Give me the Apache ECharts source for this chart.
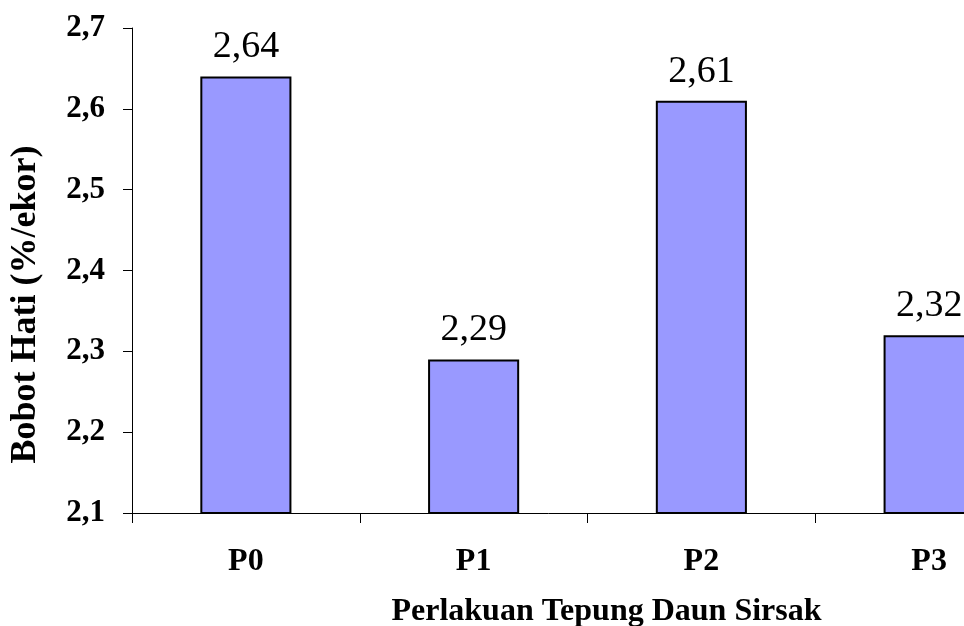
<!DOCTYPE html>
<html>
<head>
<meta charset="utf-8">
<script src="https://cdn.jsdelivr.net/npm/echarts@6/dist/echarts.min.js"></script>
<style>html,body{margin:0;padding:0;background:#fff}#c{width:964px;height:626px}</style>
</head>
<body>
<div id="c"></div>
<script>
const categories = ['P0', 'P1', 'P2', 'P3'];
const values = [2.64, 2.29, 2.61, 2.32];
const yMin = 2.1, yMax = 2.7, yStep = 0.1;
const xTitle = 'Perlakuan Tepung Daun Sirsak';
const yTitle = 'Bobot Hati (%/ekor)';

const font = '"Liberation Serif", "Times New Roman", serif';
const chart = echarts.init(document.getElementById('c'), null, {renderer: 'canvas'});
const fmt = v => Number(v).toFixed(1).replace('.', ',');
chart.setOption({
  animation: false,
  backgroundColor: '#fff',
  grid: {left: 132, top: 28, bottom: 113, width: 911, containLabel: false, outerBoundsMode: 'none'},
  xAxis: {
    type: 'category',
    data: categories,
    boundaryGap: true,
    axisLine: {lineStyle: {color: '#000', width: 1}},
    axisTick: {show: true, length: 10, lineStyle: {color: '#000'}},
    axisLabel: {margin: 33, fontFamily: font, fontWeight: 'bold', fontSize: 32, color: '#000'},
    name: xTitle,
    nameLocation: 'middle',
    nameGap: 83,
    nameTextStyle: {fontFamily: font, fontWeight: 'bold', fontSize: 32, color: '#000', padding: [0, 0, 0, 38]}
  },
  yAxis: {
    type: 'value',
    min: yMin, max: yMax, interval: yStep,
    splitLine: {show: false},
    axisLine: {show: true, lineStyle: {color: '#000', width: 1}},
    axisTick: {show: true, length: 9, lineStyle: {color: '#000'}},
    axisLabel: {margin: 27, fontFamily: font, fontWeight: 'bold', fontSize: 31, color: '#000', formatter: fmt},
    name: yTitle,
    nameLocation: 'middle',
    nameGap: 88,
    nameTextStyle: {fontFamily: font, fontWeight: 'bold', fontSize: 36, color: '#000', padding: [0, 68, 0, 0]}
  },
  series: [{
    type: 'bar',
    data: values,
    barWidth: '40%',
    itemStyle: {color: '#9999FF', borderColor: '#000', borderWidth: 2},
    label: {
      show: true, position: 'top', distance: 10,
      fontFamily: font, fontSize: 38, color: '#000',
      formatter: p => p.value.toFixed(2).replace('.', ',')
    }
  }]
});
</script>
</body>
</html>
